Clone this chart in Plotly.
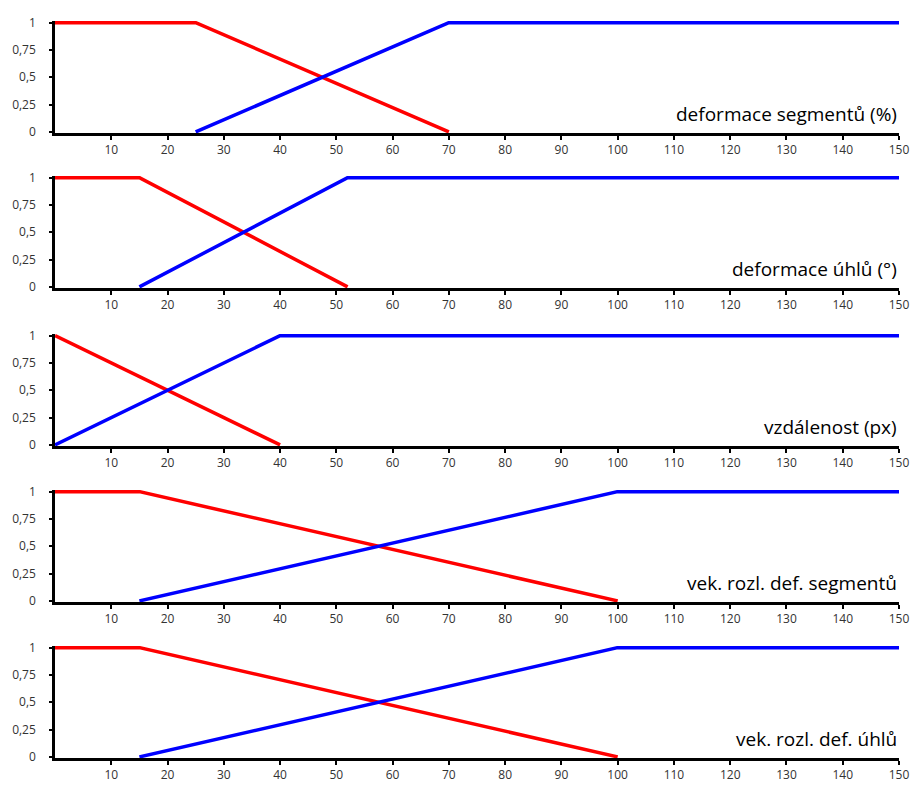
import plotly.graph_objects as go

titles = ["deformace segmentů (%)", "deformace úhlů (°)", "vzdálenost (px)",
          "vek. rozl. def. segmentů", "vek. rozl. def. úhlů"]
red_x = [[0, 25, 70], [0, 15, 52], [0, 40], [0, 15, 100], [0, 15, 100]]
red_y = [[1, 1, 0], [1, 1, 0], [1, 0], [1, 1, 0], [1, 1, 0]]
blue_x = [[25, 70, 150], [15, 52, 150], [0, 40, 150], [15, 100, 150], [15, 100, 150]]
blue_y = [[0, 1, 1], [0, 1, 1], [0, 1, 1], [0, 1, 1], [0, 1, 1]]
x_ticks = list(range(10, 151, 10))
y_ticks = [0, 0.25, 0.5, 0.75, 1]
y_tick_text = ["0", "0,25", "0,5", "0,75", "1"]

W, H = 911, 785
ML, MR, MT, MB = 55, 12, 21, 27
ph = H - MT - MB
tops = [21, 176, 334, 490, 646]
panel_h = 112

fig = go.Figure()
layout = dict(width=W, height=H, margin=dict(l=ML, r=MR, t=MT, b=MB, autoexpand=False),
              paper_bgcolor="white", plot_bgcolor="white", showlegend=False,
              annotations=[])
tickfont = dict(family="Open Sans, sans-serif", size=12, color="#333333")
for i in range(5):
    sfx = "" if i == 0 else str(i + 1)
    top = tops[i]
    bot = top + panel_h
    d0 = (H - MB - bot) / ph
    d1 = (H - MB - top) / ph
    fig.add_trace(go.Scatter(x=red_x[i], y=red_y[i], mode="lines",
                             line=dict(color="#ff0000", width=3.5),
                             xaxis="x" + sfx, yaxis="y" + sfx))
    fig.add_trace(go.Scatter(x=blue_x[i], y=blue_y[i], mode="lines",
                             line=dict(color="#0000ff", width=3.5),
                             xaxis="x" + sfx, yaxis="y" + sfx))
    layout["xaxis" + sfx] = dict(domain=[0, 1], anchor="y" + sfx, range=[0, 150],
                                 tickvals=x_ticks, ticks="outside", ticklen=4,
                                 tickwidth=2, tickcolor="black", showline=True,
                                 linecolor="black", linewidth=2.5, showgrid=False,
                                 zeroline=False, tickfont=tickfont, automargin=False)
    layout["yaxis" + sfx] = dict(domain=[d0, d1], anchor="x" + sfx, range=[-0.01, 1.015],
                                 tickvals=y_ticks, ticktext=y_tick_text, ticks="outside",
                                 ticklen=3, tickwidth=2, tickcolor="black", showline=True,
                                 linecolor="black", linewidth=2.5, showgrid=False,
                                 zeroline=False, tickfont=tickfont, automargin=False,
                                 ticklabelstandoff=11)
    layout["annotations"].append(dict(
        x=1, xref="paper", y=0.023, yref="y" + sfx, xanchor="right", yanchor="bottom",
        text=titles[i], showarrow=False, xshift=0,
        font=dict(family="Open Sans, sans-serif", size=19, color="black")))

fig.update_layout(**layout)
fig.write_html("out.html", config={"displayModeBar": False},
               post_script="document.body.style.margin='0px';")
